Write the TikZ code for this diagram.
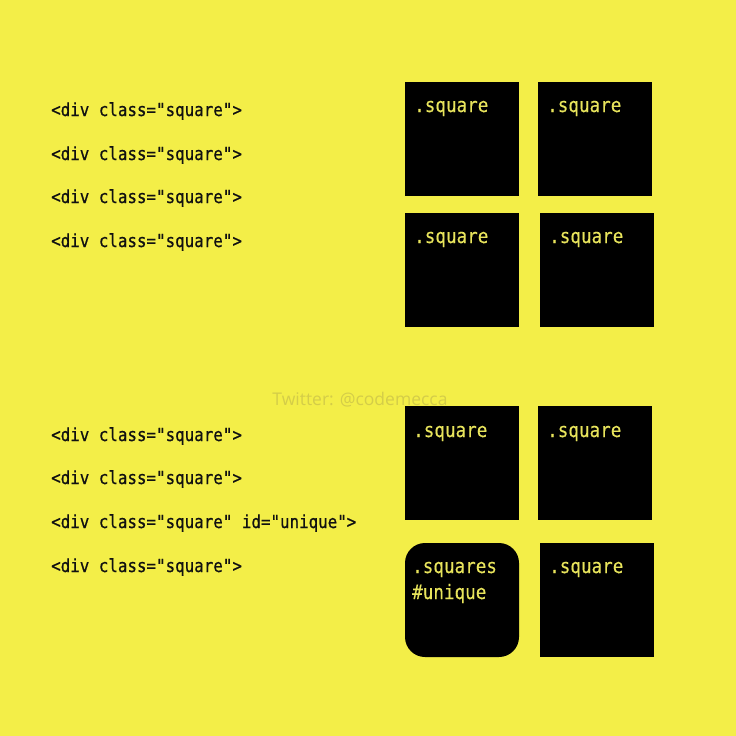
\documentclass[tikz,border=0pt]{standalone}
\usepackage{fontspec}
\newfontfamily\codefont[FakeStretch=0.88,FakeBold=0.7]{DejaVu Sans Mono}
\newfontfamily\lblfont[FakeStretch=0.88,FakeBold=0.3]{DejaVu Sans Mono}
\newfontfamily\markfont{Open Sans}
\definecolor{bg}{RGB}{243,238,72}
\definecolor{codeink}{RGB}{17,17,17}
\definecolor{boxink}{RGB}{232,228,92}
\definecolor{markink}{RGB}{212,205,72}
\tikzset{
  code/.style={anchor=base west, inner sep=0pt, text=codeink, font=\codefont\fontsize{18}{20}\selectfont},
  sq/.style={fill=black, minimum width=114pt, minimum height=114pt, inner sep=0pt, draw=none},
  sqround/.style={sq, rounded corners=20pt},
  lbl/.style={anchor=base west, inner sep=0pt, text=boxink, font=\lblfont\fontsize{20}{22}\selectfont},
  wmark/.style={inner sep=0pt, text=markink, font=\markfont\fontsize{17.5}{19}\selectfont}
}
\begin{document}
\begin{tikzpicture}[x=1pt,y=-1pt]
\fill[bg] (0,0) rectangle (736,736);
\useasboundingbox (0,0) rectangle (736,736);
% top code
\node[code] (t1) at (51,116) {<div class="square">};
\node[code] (t2) at (51,160) {<div class="square">};
\node[code] (t3) at (51,203) {<div class="square">};
\node[code] (t4) at (51,247) {<div class="square">};
% top boxes
\node[sq] (b1) at (462,139) {};
\node[sq] (b2) at (595,139) {};
\node[sq] (b3) at (462,270) {};
\node[sq] (b4) at (597,270) {};
\node[lbl] (l1) at (414,112) {.square};
\node[lbl] (l2) at (547,112) {.square};
\node[lbl] (l3) at (414,243) {.square};
\node[lbl] (l4) at (549,243) {.square};
% watermark
\node[wmark] (wm) at (360,400) {Twitter: @codemecca};
% bottom code
\node[code] (c1) at (51,441) {<div class="square">};
\node[code] (c2) at (51,484) {<div class="square">};
\node[code] (c3) at (51,528) {<div class="square" id="unique">};
\node[code] (c4) at (51,572) {<div class="square">};
% bottom boxes
\node[sq] (b5) at (462,463) {};
\node[sq] (b6) at (595,463) {};
\node[sqround] (b7) at (462,600) {};
\node[sq] (b8) at (597,600) {};
\node[lbl] (l5) at (413,437) {.square};
\node[lbl] (l6) at (547,437) {.square};
\node[lbl] (l7) at (412,573) {.squares};
\node[lbl] (l7b) at (412,599) {\#unique};
\node[lbl] (l8) at (549,573) {.square};
\end{tikzpicture}
\end{document}
